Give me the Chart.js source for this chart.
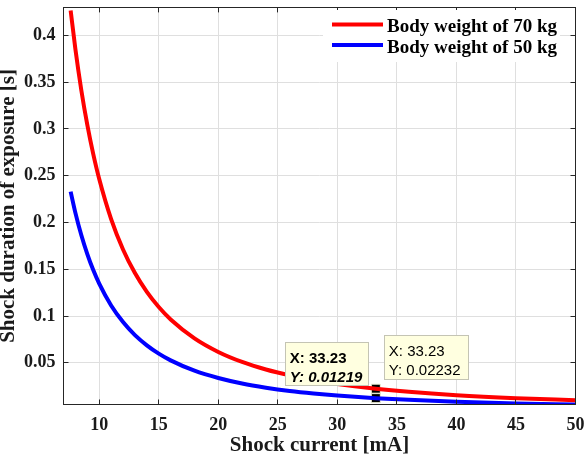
<!DOCTYPE html>
<html>
<head>
<meta charset="utf-8">
<script src="https://cdn.jsdelivr.net/npm/chart.js@4.4.1/dist/chart.umd.min.js"></script>
<style>
  html, body { margin: 0; padding: 0; background: #fff; }
  #wrap { width: 584px; height: 457px; }
</style>
</head>
<body>
<div id="wrap"><canvas id="chart" width="584" height="457"></canvas></div>
<script>
// values (shock current in mA vs duration in s)
const current    = [7.6, 8, 8.5, 9, 9.5, 10, 11, 12, 13, 14, 15, 16, 18, 20, 22, 24, 26, 28, 30, 33.23, 36, 40, 45, 50];
const duration70 = [0.4268, 0.3852, 0.3412, 0.3043, 0.2731, 0.2465, 0.2037, 0.1712, 0.1459, 0.1258, 0.1096, 0.0963,
                    0.0761, 0.0616, 0.0509, 0.0428, 0.0365, 0.0314, 0.0274, 0.02232, 0.0190, 0.0154, 0.0122, 0.0099];
const duration50 = [0.2330, 0.2103, 0.1863, 0.1662, 0.1491, 0.1346, 0.1112, 0.0935, 0.0796, 0.0687, 0.0598, 0.0526,
                    0.0415, 0.0337, 0.0278, 0.0234, 0.0199, 0.0172, 0.0150, 0.01219, 0.0104, 0.0084, 0.0066, 0.0054];
const seriesNames = ['Body weight of 70 kg', 'Body weight of 50 kg'];
const seriesColors = ['#ff0000', '#0000ff'];
const xTicks = [10, 15, 20, 25, 30, 35, 40, 45, 50];
const yTicks = [0.05, 0.1, 0.15, 0.2, 0.25, 0.3, 0.35, 0.4];
// data tips shown in the figure
const tipX = [33.23, 33.23];
const tipY = [0.02232, 0.01219];

const serif = '"Liberation Serif", "Times New Roman", serif';
const sans = '"Liberation Sans", Arial, sans-serif';
const axisColor = '#262626';

const toPoints = (xs, ys) => xs.map((x, i) => ({ x: x, y: ys[i] }));

const matlabLook = {
  id: 'matlabLook',
  afterDatasetsDraw(chart) {
    const { ctx, chartArea: a, scales: { x, y } } = chart;
    const align = p => Math.round(p - 0.5) + 0.5;
    ctx.save();

    // axes box + inward ticks
    ctx.strokeStyle = axisColor;
    ctx.lineWidth = 1;
    ctx.strokeRect(align(a.left), align(a.top), align(a.right) - align(a.left), align(a.bottom) - align(a.top));
    ctx.beginPath();
    xTicks.forEach(v => {
      const px = align(x.getPixelForValue(v));
      ctx.moveTo(px, a.bottom); ctx.lineTo(px, a.bottom - 5);
      ctx.moveTo(px, a.top); ctx.lineTo(px, a.top + 5);
    });
    yTicks.forEach(v => {
      const py = align(y.getPixelForValue(v));
      ctx.moveTo(a.left, py); ctx.lineTo(a.left + 5, py);
      ctx.moveTo(a.right, py); ctx.lineTo(a.right - 5, py);
    });
    ctx.stroke();

    // legend (top right, white background, no frame)
    ctx.fillStyle = '#fff';
    ctx.fillRect(323, 10, 237, 52);
    ctx.font = 'bold 19px ' + serif;
    ctx.textBaseline = 'alphabetic';
    ctx.textAlign = 'left';
    seriesNames.forEach((name, i) => {
      const ly = i === 0 ? 24.5 : 45;
      ctx.strokeStyle = seriesColors[i];
      ctx.lineWidth = 4;
      ctx.beginPath();
      ctx.moveTo(332, ly); ctx.lineTo(383, ly);
      ctx.stroke();
      ctx.fillStyle = '#000';
      ctx.fillText(name, 387, i === 0 ? 31.5 : 53);
    });

    // data tip boxes
    tipX.forEach((tx, i) => {
      const px = x.getPixelForValue(tx);
      const py = y.getPixelForValue(tipY[i]);
      let left, top, w, h, bold;
      if (i === 0) { left = px + 8; top = py - 54; w = 85; h = 45; bold = false; }
      else { left = px - 91; top = py - 56; w = 84; h = 44; bold = true; }
      ctx.fillStyle = '#ffffe0';
      ctx.fillRect(Math.round(left), Math.round(top), w, h);
      ctx.strokeStyle = '#c4c4b4';
      ctx.lineWidth = 1;
      ctx.strokeRect(Math.round(left) + 0.5, Math.round(top) + 0.5, w - 1, h - 1);
      ctx.fillStyle = '#000';
      ctx.textAlign = 'left';
      ctx.font = (bold ? 'bold ' : '') + '15px ' + sans;
      ctx.fillText('X: ' + tx, left + 5, top + 21);
      ctx.font = (bold ? 'italic bold ' : '') + '15px ' + sans;
      ctx.fillText('Y: ' + tipY[i], left + 5, top + 40);
    });

    ctx.restore();
  }
};

new Chart(document.getElementById('chart'), {
  type: 'line',
  data: {
    datasets: [
      {
        label: seriesNames[0],
        data: toPoints(current, duration70),
        borderColor: seriesColors[0],
        borderWidth: 4,
        pointRadius: 0,
        cubicInterpolationMode: 'monotone',
        fill: false
      },
      {
        label: seriesNames[1],
        data: toPoints(current, duration50),
        borderColor: seriesColors[1],
        borderWidth: 4,
        pointRadius: 0,
        cubicInterpolationMode: 'monotone',
        fill: false
      },
      {
        label: 'tips',
        data: toPoints(tipX, tipY),
        showLine: false,
        pointStyle: 'rect',
        pointRadius: 6.4,
        pointBackgroundColor: '#000',
        pointBorderColor: '#f2f2d8',
        pointBorderWidth: 1
      }
    ]
  },
  options: {
    responsive: false,
    animation: false,
    events: [],
    layout: { padding: { top: 0.5, right: 8.5, left: 0, bottom: 0 } },
    plugins: {
      legend: { display: false },
      tooltip: { enabled: false }
    },
    scales: {
      x: {
        type: 'linear',
        min: 7,
        max: 50,
        afterBuildTicks: s => { s.ticks = xTicks.map(v => ({ value: v })); },
        afterFit: s => { s.height = 52.5; s.paddingLeft = 0; s.paddingRight = 0; },
        grid: { color: '#dfdfdf', lineWidth: 1, drawTicks: false },
        border: { display: false },
        ticks: {
          padding: 10,
          maxRotation: 0,
          color: '#1a1a1a',
          font: { family: serif, size: 18, weight: 'bold' },
          callback: v => String(v)
        },
        title: {
          display: true,
          text: 'Shock current [mA]',
          color: '#1a1a1a',
          font: { family: serif, size: 21, weight: 'bold', lineHeight: '22px' },
          padding: { top: 0, bottom: 0 }
        }
      },
      y: {
        type: 'linear',
        min: 0.0054,
        max: 0.43,
        afterBuildTicks: s => { s.ticks = yTicks.map(v => ({ value: v })); },
        afterFit: s => { s.width = 63.5; s.paddingTop = 0; s.paddingBottom = 0; },
        grid: { color: '#dfdfdf', lineWidth: 1, drawTicks: false },
        border: { display: false },
        ticks: {
          padding: 8,
          color: '#1a1a1a',
          font: { family: serif, size: 18, weight: 'bold' },
          callback: v => String(v)
        },
        title: {
          display: true,
          text: 'Shock duration of exposure [s]',
          color: '#1a1a1a',
          font: { family: serif, size: 21, weight: 'bold', lineHeight: '18px' },
          padding: { top: 0, bottom: 0 }
        }
      }
    }
  },
  plugins: [matlabLook]
});
</script>
</body>
</html>
